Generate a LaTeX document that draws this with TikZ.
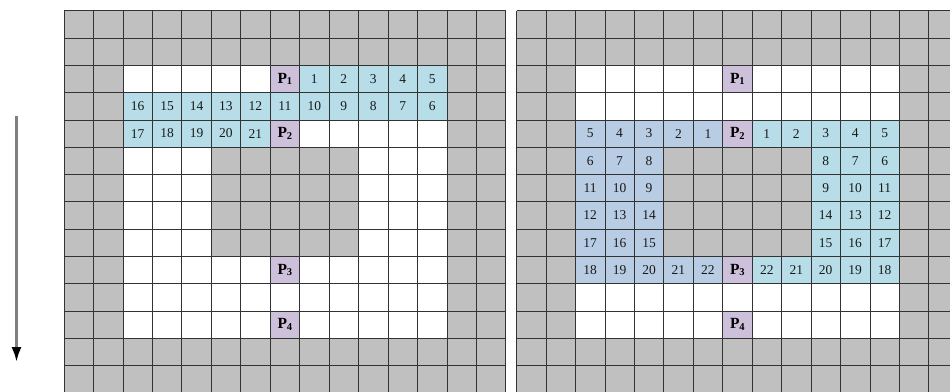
\documentclass[tikz,border=0pt]{standalone}
\usepackage{fontspec}
\setmainfont{Liberation Serif}
\usetikzlibrary{arrows.meta}
\definecolor{wallgray}{HTML}{C0C0C0}
\definecolor{pathcyan}{HTML}{B7DEE8}
\definecolor{pathblue}{HTML}{B8CCE4}
\definecolor{ptpurple}{HTML}{CCC0DA}
\tikzset{
  gridline/.style={draw=black!80, line width=0.7bp},
  numlabel/.style={inner sep=0pt, font=\fontsize{13.5bp}{15bp}\selectfont, text=black!90},
  plabel/.style={inner sep=0pt, font=\fontsize{15.5bp}{17bp}\selectfont\bfseries},
  dirarrow/.style={draw=black!50, line width=2.6bp, -{Latex[length=15bp,width=10bp,color=black]}},
}
\newcommand{\mazebase}{%
  \fill[wallgray] (0,0) rectangle (15,14);
  \fill[white] (2,2) rectangle (13,12);
  \fill[wallgray] (5,5) rectangle (10,9);
}
\newcommand{\gridlines}{%
  \foreach \i in {0,...,15} \draw[gridline] (\i,0) -- (\i,14);
  \foreach \j in {0,...,14} \draw[gridline] (0,\j) -- (15,\j);
}
\newcommand{\pname}[1]{P\raisebox{-0.25ex}{\fontsize{10.5bp}{12bp}\selectfont\bfseries #1}}
\begin{document}
\begin{tikzpicture}[x=29.45bp, y=-27.3bp]
\useasboundingbox (-2.1732,-0.3919) rectangle (30.0849,13.967);
% ---------- left grid ----------
\begin{scope}
  \mazebase
  \fill[pathcyan] (8,2) rectangle (13,3);
  \fill[pathcyan] (2,3) rectangle (13,4);
  \fill[pathcyan] (2,4) rectangle (7,5);
  \foreach \r in {2,4,9,11} \fill[ptpurple] (7,\r) rectangle (8,\r+1);
  \gridlines
  \foreach \c/\t in {8/1,9/2,10/3,11/4,12/5}
    \node[numlabel] (La2\c) at (\c+0.5,2.5) {\t};
  \foreach \c/\t in {2/16,3/15,4/14,5/13,6/12,7/11,8/10,9/9,10/8,11/7,12/6}
    \node[numlabel] (La3\c) at (\c+0.5,3.5) {\t};
  \foreach \c/\t in {2/17,3/18,4/19,5/20,6/21}
    \node[numlabel] (La4\c) at (\c+0.5,4.5) {\t};
  \node[plabel] (LP1) at (7.5,2.5) {\pname{1}};
  \node[plabel] (LP2) at (7.5,4.5) {\pname{2}};
  \node[plabel] (LP3) at (7.5,9.5) {\pname{3}};
  \node[plabel] (LP4) at (7.5,11.5) {\pname{4}};
\end{scope}
% ---------- right grid ----------
\begin{scope}[shift={(15.365,0)}]
  \mazebase
  \fill[pathblue] (2,4) rectangle (7,5);
  \fill[pathblue] (2,5) rectangle (5,9);
  \fill[pathblue] (2,9) rectangle (7,10);
  \fill[pathcyan] (8,4) rectangle (13,5);
  \fill[pathcyan] (10,5) rectangle (13,9);
  \fill[pathcyan] (8,9) rectangle (13,10);
  \foreach \r in {2,4,9,11} \fill[ptpurple] (7,\r) rectangle (8,\r+1);
  \gridlines
  \foreach \c/\t in {2/5,3/4,4/3,5/2,6/1,8/1,9/2,10/3,11/4,12/5}
    \node[numlabel] (Rb4\c) at (\c+0.5,4.5) {\t};
  \foreach \c/\t in {2/6,3/7,4/8,10/8,11/7,12/6}
    \node[numlabel] (Rb5\c) at (\c+0.5,5.5) {\t};
  \foreach \c/\t in {2/11,3/10,4/9,10/9,11/10,12/11}
    \node[numlabel] (Rb6\c) at (\c+0.5,6.5) {\t};
  \foreach \c/\t in {2/12,3/13,4/14,10/14,11/13,12/12}
    \node[numlabel] (Rb7\c) at (\c+0.5,7.5) {\t};
  \foreach \c/\t in {2/17,3/16,4/15,10/15,11/16,12/17}
    \node[numlabel] (Rb8\c) at (\c+0.5,8.5) {\t};
  \foreach \c/\t in {2/18,3/19,4/20,5/21,6/22,8/22,9/21,10/20,11/19,12/18}
    \node[numlabel] (Rb9\c) at (\c+0.5,9.5) {\t};
  \node[plabel] (RP1) at (7.5,2.5) {\pname{1}};
  \node[plabel] (RP2) at (7.5,4.5) {\pname{2}};
  \node[plabel] (RP3) at (7.5,9.5) {\pname{3}};
  \node[plabel] (RP4) at (7.5,11.5) {\pname{4}};
\end{scope}
% ---------- direction arrow ----------
\coordinate (arrTop) at (-1.613,3.857);
\coordinate (arrTip) at (-1.613,12.87);
\draw[dirarrow] (arrTop) -- (arrTip);
\end{tikzpicture}
\end{document}
